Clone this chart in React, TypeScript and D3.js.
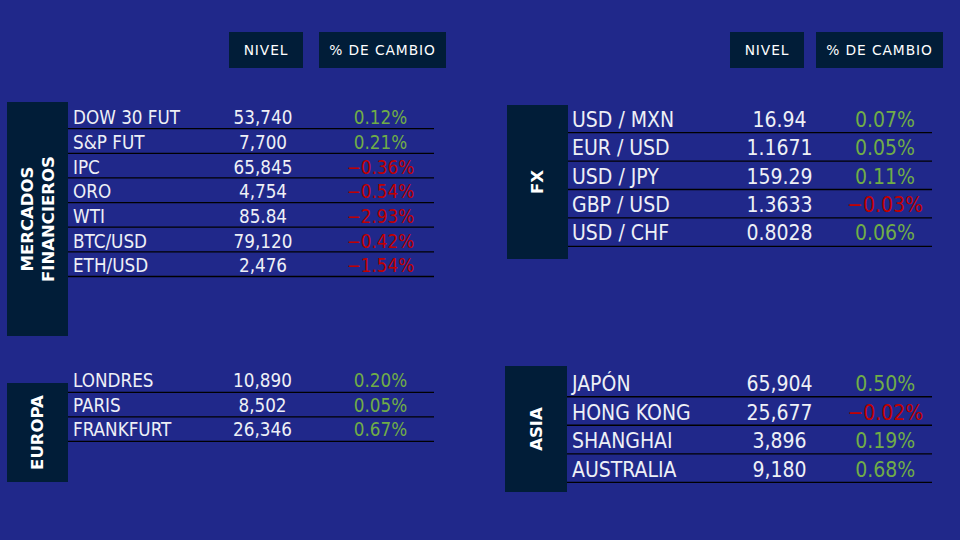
import * as d3 from "d3";

// Datos de cada bloque
const mercadosNames = ["DOW 30 FUT", "S&P FUT", "IPC", "ORO", "WTI", "BTC/USD", "ETH/USD"];
const mercadosLevels = [53740, 7700, 65845, 4754, 85.84, 79120, 2476];
const mercadosChanges = [0.12, 0.21, -0.36, -0.54, -2.93, -0.42, -1.54];

const europaNames = ["LONDRES", "PARIS", "FRANKFURT"];
const europaLevels = [10890, 8502, 26346];
const europaChanges = [0.2, 0.05, 0.67];

const fxNames = ["USD / MXN", "EUR / USD", "USD / JPY", "GBP / USD", "USD / CHF"];
const fxLevels = [16.94, 1.1671, 159.29, 1.3633, 0.8028];
const fxChanges = [0.07, 0.05, 0.11, -0.03, 0.06];

const asiaNames = ["JAPÓN", "HONG KONG", "SHANGHAI", "AUSTRALIA"];
const asiaLevels = [65904, 25677, 3896, 9180];
const asiaChanges = [0.5, -0.02, 0.19, 0.68];

const headerLabels = ["NIVEL", "% DE CAMBIO"];

const BG = "#20288a";
const DARK = "#011d38";
const TEXT = "#eef0f6";
const GREEN = "#70ad47";
const RED = "#c00000";
const ROW_FONT = "'DejaVu Sans Condensed', 'DejaVu Sans', sans-serif";
const LABEL_FONT = "'DejaVu Sans', sans-serif";

const fmtLevel = (v: number) => (Number.isInteger(v) ? d3.format(",")(v) : String(v));
const fmtChange = (v: number) => d3.format(".2f")(v) + "%";

interface TableProps {
    title: string[];
    names: string[];
    levels: number[];
    changes: number[];
    box: [number, number, number, number]; // x, y, w, h
    rows: [number, number]; // y range of the rows
    lineEnd: number;
    cols: [number, number, number]; // name x, nivel center, % center
    fontSize: number;
    baselineOffset: number;
}

const Table: React.FC<TableProps> = ({ title, names, levels, changes, box, rows, lineEnd, cols, fontSize, baselineOffset }) => {
    const y = d3.scaleBand<string>().domain(names).range(rows).padding(0);
    const [bx, by, bw, bh] = box;
    const cx = bx + bw / 2;
    const cy = by + bh / 2;
    const lineH = 21;
    return (
        <g>
            <rect x={bx} y={by} width={bw} height={bh} fill={DARK} />
            <g transform={`translate(${cx}, ${cy}) rotate(-90)`}>
                {title.map((t, i) => (
                    <text
                        key={t}
                        x={0}
                        y={(i - (title.length - 1) / 2) * lineH}
                        dy="0.36em"
                        textAnchor="middle"
                        fill="#ffffff"
                        fontFamily={LABEL_FONT}
                        fontWeight="bold"
                        fontSize={16.5}
                    >
                        {t}
                    </text>
                ))}
            </g>
            {names.map((n, i) => {
                const top = y(n) || 0;
                const bottom = top + y.bandwidth();
                const base = bottom - baselineOffset;
                return (
                    <g key={n}>
                        <line x1={bx + bw} x2={lineEnd} y1={bottom} y2={bottom} stroke="#000000" strokeWidth={1.3} />
                        <text x={cols[0]} y={base} fill={TEXT} fontFamily={ROW_FONT} fontSize={fontSize}>{n}</text>
                        <text x={cols[1]} y={base} fill={TEXT} fontFamily={ROW_FONT} fontSize={fontSize} textAnchor="middle">
                            {fmtLevel(levels[i])}
                        </text>
                        <text
                            x={cols[2]}
                            y={base}
                            fill={changes[i] < 0 ? RED : GREEN}
                            fontFamily={ROW_FONT}
                            fontSize={fontSize}
                            textAnchor="middle"
                        >
                            {fmtChange(changes[i])}
                        </text>
                    </g>
                );
            })}
        </g>
    );
};

const Header: React.FC<{ boxes: [number, number][] }> = ({ boxes }) => (
    <g>
        {headerLabels.map((h, i) => {
            const [x0, x1] = boxes[i];
            return (
                <g key={h}>
                    <rect x={x0} y={32} width={x1 - x0} height={36} fill={DARK} />
                    <text
                        x={(x0 + x1) / 2}
                        y={50}
                        dy="0.36em"
                        textAnchor="middle"
                        fill="#ffffff"
                        fontFamily={LABEL_FONT}
                        fontSize={13.8}
                        letterSpacing={0.9}
                    >
                        {h}
                    </text>
                </g>
            );
        })}
    </g>
);

export default function App() {
    return (
        <svg width={960} height={540} style={{ position: "absolute", left: 0, top: 0, display: "block" }}>
            <rect x={0} y={0} width={960} height={540} fill={BG} />
            <Header boxes={[[229, 303], [319, 446]]} />
            <Header boxes={[[730, 804], [816, 943]]} />
            <Table
                title={["MERCADOS", "FINANCIEROS"]}
                names={mercadosNames}
                levels={mercadosLevels}
                changes={mercadosChanges}
                box={[7, 102, 61, 234]}
                rows={[104, 276.5]}
                lineEnd={434}
                cols={[73, 263, 380.5]}
                fontSize={18.7}
                baselineOffset={4.3}
            />
            <Table
                title={["EUROPA"]}
                names={europaNames}
                levels={europaLevels}
                changes={europaChanges}
                box={[7, 383, 61, 99]}
                rows={[367.8, 441.3]}
                lineEnd={434}
                cols={[73, 262.5, 380.5]}
                fontSize={18.7}
                baselineOffset={5}
            />
            <Table
                title={["FX"]}
                names={fxNames}
                levels={fxLevels}
                changes={fxChanges}
                box={[507, 105, 61, 154]}
                rows={[104.3, 246.3]}
                lineEnd={932}
                cols={[572, 779.5, 885]}
                fontSize={21}
                baselineOffset={6}
            />
            <Table
                title={["ASIA"]}
                names={asiaNames}
                levels={asiaLevels}
                changes={asiaChanges}
                box={[505, 366, 62, 126]}
                rows={[368.2, 482.3]}
                lineEnd={932}
                cols={[572, 779.5, 885.3]}
                fontSize={21}
                baselineOffset={5.7}
            />
        </svg>
    );
}
